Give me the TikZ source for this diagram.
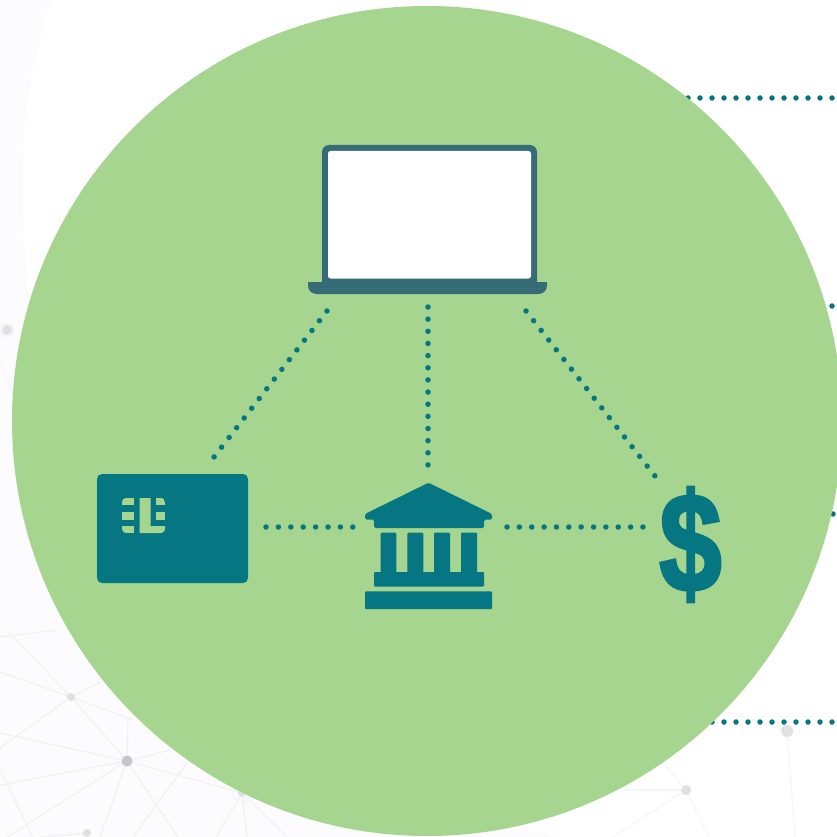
\documentclass[tikz,border=0pt]{standalone}
\usepackage{fontspec}
\setmainfont{Liberation Sans}
\newfontfamily\dollarfont[FakeBold=2.5]{Liberation Sans}
\definecolor{disc}{HTML}{A5D58F}
\definecolor{teal}{HTML}{057682}
\definecolor{slate}{HTML}{366C75}
\definecolor{haze}{HTML}{FCFCFE}
\definecolor{web}{HTML}{F1F1F3}
\definecolor{webfar}{HTML}{F6F6F8}
\definecolor{hub}{HTML}{C6C6CA}
\definecolor{knot}{HTML}{E0E0E2}
\tikzset{
  x=1pt,y=-1pt,
  dotline/.style={draw=teal,line width=5.5pt,line cap=round,dash pattern=on 0pt off #1pt},
  dotline/.default=12,
  icon/.style={inner sep=0pt,outer sep=0pt},
  webline/.style={draw=web,line width=1.2pt},
  farline/.style={draw=webfar,line width=1.2pt},
  tealfill/.style={fill=teal,draw=none},
  chipfill/.style={fill=disc,draw=none}
}
\begin{document}
\begin{tikzpicture}
\useasboundingbox (0,0) rectangle (836,837);
\fill[white] (0,0) rectangle (836,837);
% faint background
\fill[haze] (0,0) -- (52,0) .. controls (30,60) and (20,130) .. (23,220) .. controls (25,300) and (35,350) .. (60,420) -- (60,560) .. controls (120,650) and (300,760) .. (560,837) -- (0,837) -- cycle;
% network
\coordinate (w1) at (127,761);
\coordinate (w2) at (71,697);
\coordinate (w3) at (87,833);
\coordinate (w4) at (242,793);
\coordinate (w5) at (686,790);
\coordinate (w6) at (787,731);
\coordinate (w7) at (7,330);
\foreach \p in {(0,733),(71,697),(128,717),(170,750),(0,785),(7,837),(100,837),(178,837),(242,793)} \draw[webline] (w1) -- \p;
\foreach \p in {(7,630),(100,682),(0,672),(0,748),(133,720)} \draw[webline] (w2) -- \p;
\draw[webline] (0,637) -- (57,630);
\draw[webline] (187,763) -- (133,837);
\draw[webline] (0,770) -- (33,837);
\draw[webline] (w3) -- (40,837);
\foreach \p in {(247,837),(287,837),(216,837)} \draw[webline] (w4) -- \p;
\foreach \p in {(620,790),(613,837),(709,837),(665,765)} \draw[farline] (w5) -- \p;
\foreach \p in {(795,837),(725,711)} \draw[farline] (w6) -- \p;
\draw[farline] (0,360) -- (15,400);
\fill[webfar] (w7) circle (8);
\fill[knot] (w7) circle (5);
\draw[web,line width=1pt] (w4) circle (9);
\fill[hub] (w1) circle (5.5);
\fill[knot] (w2) circle (4);
\fill[knot] (w3) circle (4);
\fill[knot] (w4) circle (4);
\fill[knot] (w5) circle (5);
\fill[knot] (w6) circle (6);
% stubs leaving the disc
\coordinate (stubA) at (832,98);
\coordinate (stubAend) at (676,98);
\coordinate (stubB) at (832,306);
\coordinate (stubBend) at (820,306);
\coordinate (stubC) at (833,514);
\coordinate (stubCend) at (821,514);
\coordinate (stubD) at (832,722);
\coordinate (stubDend) at (700,722);
\draw[dotline] (stubA) -- (stubAend);
\draw[dotline] (stubB) -- (stubBend);
\draw[dotline] (stubC) -- (stubCend);
\draw[dotline] (stubD) -- (stubDend);
% disc
\node[circle,fill=disc,draw=none,minimum size=830pt,inner sep=0pt,outer sep=0pt] (disc) at (427,421) {};
% laptop
\node[icon,minimum width=239pt,minimum height=149pt] (laptop) at (427.5,219.5) {};
\fill[slate,rounded corners=7pt] (322,145) rectangle (537,290);
\fill[slate] (308,282) -- (547,282) -- (547,285) .. controls (547,291) and (543,294) .. (538,294) -- (317,294) .. controls (312,294) and (308,291) .. (308,285) -- cycle;
\fill[white,rounded corners=2.5pt] (328,151) rectangle (531,278.5);
% card
\node[icon,fill=teal,rounded corners=5pt,minimum width=151pt,minimum height=109pt] (card) at (172.5,528.5) {};
\begin{scope}
\clip[rounded corners=4pt] (122,498) rectangle (165,533);
\fill[chipfill] (122,498) rectangle (133.5,505);
\fill[chipfill] (122,512) rectangle (133.5,519.5);
\fill[chipfill] (122,526) rectangle (133.5,533);
\fill[chipfill] (139.5,498) -- (150.5,498) -- (150.5,526) -- (165,526) -- (165,533) -- (139.5,533) -- cycle;
\fill[chipfill] (156,498) rectangle (165,505);
\fill[chipfill] (156,512) rectangle (165,519.5);
\end{scope}
% bank
\node[icon,minimum width=127pt,minimum height=126pt] (bank) at (428.5,546) {};
\fill[tealfill,rounded corners=1.5pt] (428.5,482.7) -- (492,514) -- (492,519.5) -- (484,519.5) -- (484,528) -- (374,528) -- (374,519.5) -- (365,519.5) -- (365,514) -- cycle;
\foreach \xa/\xb in {380.7/396.3,407.3/423.3,434/450,461/477}
  \fill[tealfill,rounded corners=1pt] (\xa,532.7) rectangle (\xb,574);
\fill[tealfill,rounded corners=1pt] (374,572) rectangle (484,586.7);
\fill[tealfill,rounded corners=1pt] (365,591.3) -- (492,591.3) -- (492,609) -- (365,609) -- cycle;
% dollar
\node[icon,text=teal,font=\fontsize{140}{140}\selectfont\dollarfont\bfseries] (dollar) at (690.5,544.5) {\scalebox{0.8}[1]{\$}};
% connectors
\draw[dotline=12.3] ([shift={(19,17)}]laptop.south west) -- ([shift={(41.5,-17)}]card.north);
\draw[dotline=12.15] ([shift={(0.5,13)}]laptop.south) -- ([shift={(-0.5,-18)}]bank.north);
\draw[dotline=12.3] ([shift={(-21,17)}]laptop.south east) -- ([shift={(-35.5,-68.5)}]dollar.center);
\draw[dotline=12.4] ([shift={(18,-1.5)}]card.east) -- ([shift={(-12,-19)}]bank.west);
\draw[dotline=12.36] ([shift={(15,-19)}]bank.east) -- ([shift={(-47.5,-17.5)}]dollar.center);
\end{tikzpicture}
\end{document}
